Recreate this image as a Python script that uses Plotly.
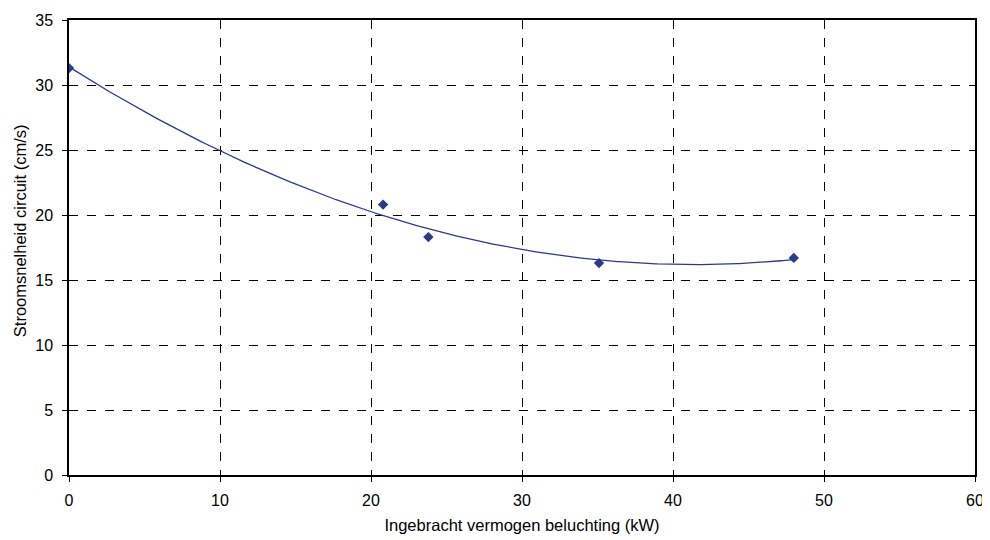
import numpy as np
import plotly.graph_objects as go

power_kw = [0.0, 20.8, 23.8, 35.1, 48.0]
speed_cms = [31.3, 20.8, 18.3, 16.3, 16.7]
x_ticks = [0, 10, 20, 30, 40, 50, 60]
y_ticks = [0, 5, 10, 15, 20, 25, 30, 35]

coef = np.polyfit(power_kw, speed_cms, 2)
xf = np.linspace(min(power_kw), max(power_kw), 400)
yf = np.polyval(coef, xf)

color = "#2B3A8F"
fig = go.Figure()
fig.add_trace(go.Scatter(x=xf, y=yf, mode="lines", line=dict(color=color, width=1.3), hoverinfo="skip"))
fig.add_trace(go.Scatter(x=power_kw, y=speed_cms, mode="markers",
                         marker=dict(symbol="diamond", size=8, color=color)))

axis_common = dict(showline=True, linecolor="black", linewidth=1.5, mirror=True,
                   showgrid=True, gridcolor="black", griddash="dash", gridwidth=1,
                   ticks="outside", ticklen=5, tickcolor="black", zeroline=False,
                   tickfont=dict(size=16, color="black"))
fig.update_xaxes(range=[0, 60], tickvals=x_ticks, ticklabelstandoff=5,
                 title=dict(text="Ingebracht vermogen beluchting (kW)", font=dict(size=16.5, color="black"), standoff=11),
                 **axis_common)
fig.update_yaxes(range=[0, 35], tickvals=y_ticks, ticklabelstandoff=6, **axis_common)
fig.add_annotation(text="Stroomsnelheid circuit (cm/s)", xref="paper", yref="paper",
                   x=-0.054, y=0.536, xanchor="center", yanchor="middle", textangle=-90,
                   showarrow=False, font=dict(size=16.5, color="black"))
fig.update_layout(width=982, height=532, showlegend=False,
                  plot_bgcolor="white", paper_bgcolor="white",
                  font=dict(family="Liberation Sans, Arial, sans-serif"),
                  margin=dict(l=61, r=15, t=12, b=64.5, autoexpand=False))
fig.write_html("out.html")
